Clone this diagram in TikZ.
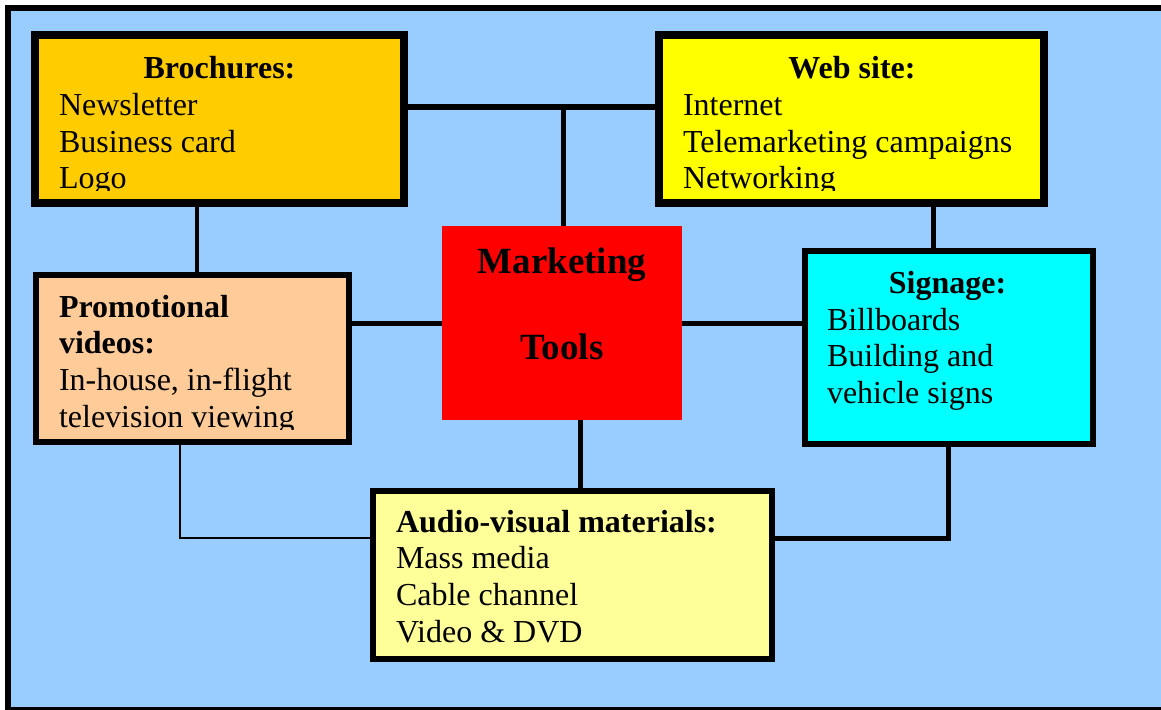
\documentclass[tikz,border=0pt]{standalone}
\usepackage{fontspec}
\setmainfont{Liberation Serif}
\definecolor{bgblue}{HTML}{99CCFF}
\definecolor{brochc}{HTML}{FFCC00}
\definecolor{webc}{HTML}{FFFF00}
\definecolor{promoc}{HTML}{FFCC99}
\definecolor{signc}{HTML}{00FFFF}
\definecolor{audioc}{HTML}{FFFF99}
\definecolor{mktc}{HTML}{FF0000}
\begin{document}
\begin{tikzpicture}[x=1pt,y=-1pt,
  box/.style={draw=black,rectangle,inner sep=0pt,outer sep=0pt},
  bigbox/.style={box,line width=8pt},
  smallbox/.style={box,line width=6pt},
  txt/.style={inner sep=0pt,outer sep=0pt,font=\fontsize{32}{37}\selectfont},
  ttl/.style={txt,font=\fontsize{32}{37}\selectfont\bfseries},
  conn/.style={line width=5pt},
  thinconn/.style={line width=2.5pt}]
\useasboundingbox (0,0) rectangle (1161,709);
% background and frame
\fill[bgblue] (8,8) rectangle (1161,709);
\draw[line width=6pt] (8,5) -- (8,709);
\draw[line width=6pt] (5,8) -- (1161,8);
\draw[line width=3pt] (5,708) -- (1161,708);

% boxes
\node[bigbox,fill=brochc,minimum width=369pt,minimum height=168pt] (broch) at (219.5,119) {};
\node[bigbox,fill=webc,minimum width=385pt,minimum height=168pt] (web) at (851.5,119) {};
\node[smallbox,line width=6.5pt,fill=promoc,minimum width=313pt,minimum height=167pt] (promo) at (192.5,358.5) {};
\node[smallbox,fill=signc,minimum width=288pt,minimum height=193pt] (sign) at (948.5,347.5) {};
\node[smallbox,fill=audioc,minimum width=399pt,minimum height=168pt] (audio) at (572.5,575) {};
\node[rectangle,fill=mktc,inner sep=0pt,outer sep=0pt,minimum width=240pt,minimum height=194pt] (mkt) at (562,323) {};

% connector coordinates
\coordinate (jtop) at (563,107);
\coordinate (jbp) at (197,0);
\coordinate (jws) at (933,0);
\coordinate (jma) at (580,0);
\coordinate (jsa) at (948,538);
\coordinate (jpa) at (180,538);

% connectors
\draw[line width=6pt] (jtop -| broch.east) -- (jtop -| web.west);
\draw[conn] (jtop) -- (jtop |- mkt.north);
\draw[line width=4pt] (jbp |- broch.south) -- (jbp |- promo.north);
\draw[conn] (mkt.west) -- (mkt.west -| promo.east);
\draw[conn] (mkt.east) -- (mkt.east -| sign.west);
\draw[conn] (jws |- web.south) -- (jws |- sign.north);
\draw[conn] (jma |- mkt.south) -- (jma |- audio.north);
\draw[conn,line join=miter] (jsa |- sign.south) -- (jsa) -- (jsa -| audio.east);
\draw[thinconn,line join=miter] (jpa |- promo.south) -- (jpa) -- (jpa -| audio.west);

% Marketing Tools
\node[inner sep=0pt,anchor=base,font=\fontsize{37}{42}\selectfont\bfseries] (mkt1) at (562,273) {Marketing};
\node[inner sep=0pt,anchor=base,font=\fontsize{37}{42}\selectfont\bfseries] (mkt2) at (562,359) {Tools};

% Brochures text
\node[ttl,anchor=base] (bt) at (219.5,78) {Brochures:};
\node[txt,anchor=base west] (b1) at (59,115) {Newsletter};
\node[txt,anchor=base west] (b2) at (59,152) {Business card};
\begin{scope}
\clip (40,120) rectangle (400,190);
\node[txt,anchor=base west] (b3) at (59,188) {Logo};
\end{scope}

% Web site text
\node[ttl,anchor=base] (wt) at (852,78) {Web site:};
\node[txt,anchor=base west] (w1) at (683,115) {Internet};
\node[txt,anchor=base west] (w2) at (683,152) {Telemarketing campaigns};
\begin{scope}
\clip (663,120) rectangle (1040,190);
\node[txt,anchor=base west] (w3) at (683,188) {Networking};
\end{scope}

% Promotional videos text
\node[ttl,anchor=base west] (pt1) at (59,317) {Promotional};
\node[ttl,anchor=base west] (pt2) at (59,353) {videos:};
\node[txt,anchor=base west] (p1) at (59,390) {In-house, in-flight};
\begin{scope}
\clip (40,395) rectangle (345,429);
\node[txt,anchor=base west] (p2) at (59,427) {television viewing};
\end{scope}

% Signage text
\node[ttl,anchor=base] (st) at (947.5,293) {Signage:};
\node[txt,anchor=base west] (s1) at (827,330) {Billboards};
\node[txt,anchor=base west] (s2) at (827,366) {Building and};
\node[txt,anchor=base west] (s3) at (827,403) {vehicle signs};

% Audio-visual text
\node[ttl,anchor=base west] (at) at (396,532) {Audio-visual materials:};
\node[txt,anchor=base west] (a1) at (396,568) {Mass media};
\node[txt,anchor=base west] (a2) at (396,605) {Cable channel};
\node[txt,anchor=base west] (a3) at (396,642) {Video \& DVD};
\end{tikzpicture}
\end{document}
